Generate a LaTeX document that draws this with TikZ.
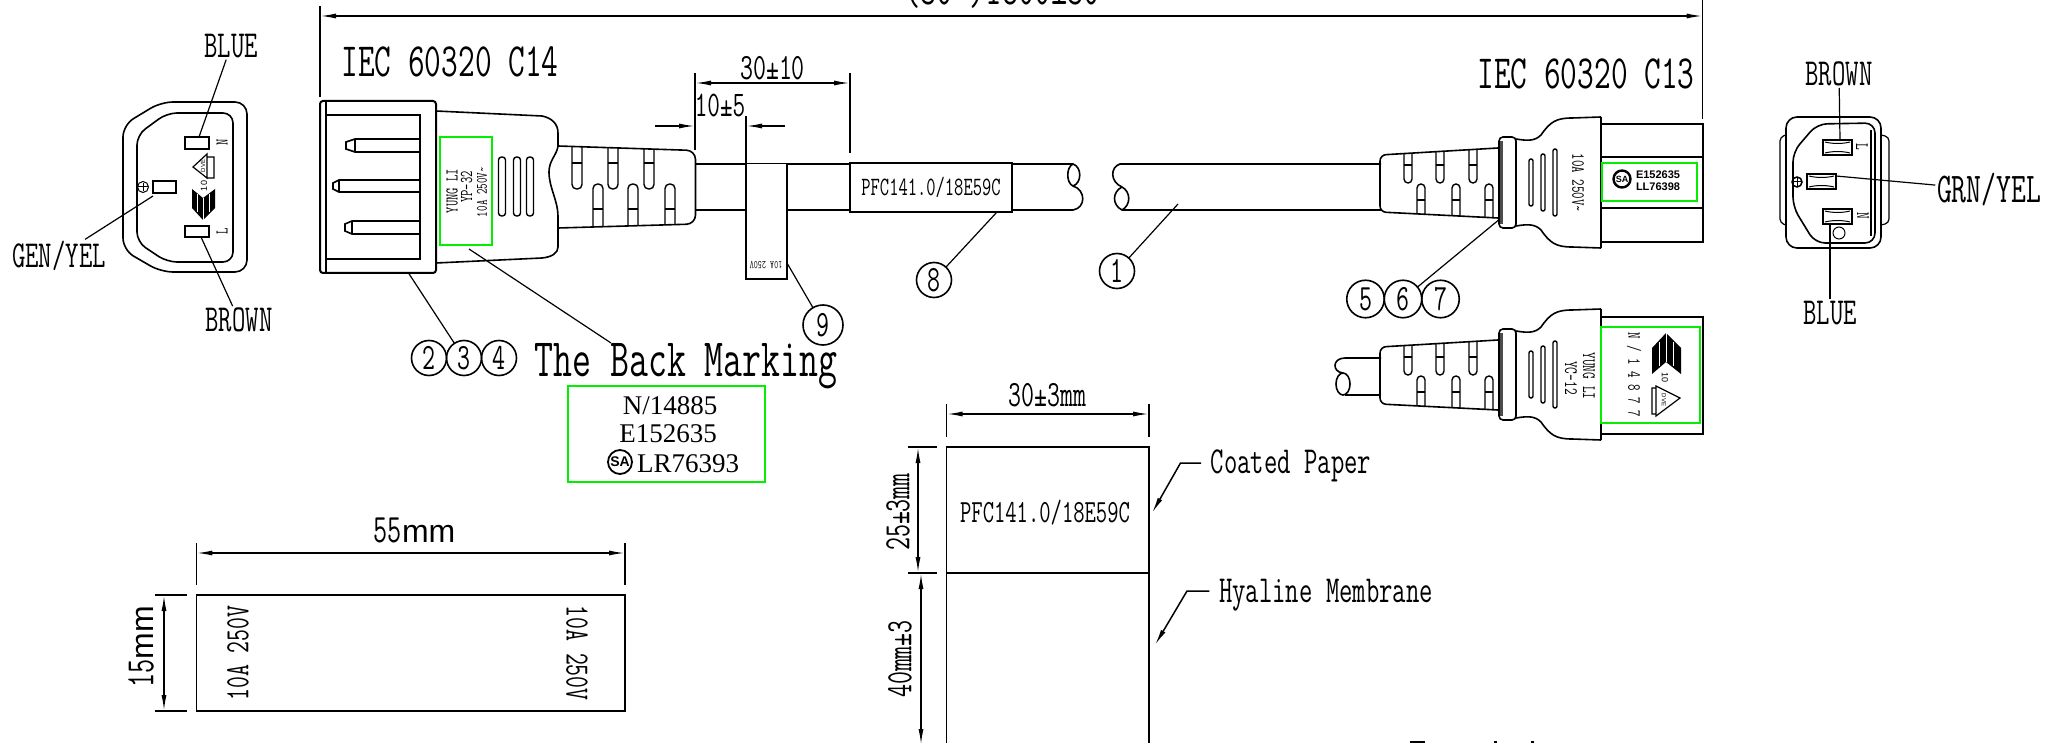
\documentclass[tikz,border=0pt]{standalone}
\usepackage{fontspec}
\usepackage{tikz}
\usetikzlibrary{positioning,arrows.meta}
\newfontfamily\cadfont[FakeStretch=0.68]{Latin Modern Mono}
\newfontfamily\markfont{Liberation Serif}
\newfontfamily\logofont[Scale=1]{Liberation Sans}
\newcommand{\cad}[1]{\cadfont\fontsize{\fpeval{#1*1.06}pt}{#1pt}\selectfont}
\newcommand{\mrk}[1]{\markfont\fontsize{#1pt}{#1pt}\selectfont}
\newcommand{\lgo}[1]{\logofont\fontsize{#1pt}{#1pt}\selectfont}
\definecolor{markgreen}{RGB}{0,240,0}
\tikzset{
	lab/.style={font=\cad{#1},inner sep=1pt},
	rlab/.style={font=\cad{#1},inner sep=1pt,rotate=90},
	dlab/.style={font=\cad{#1},inner sep=1pt,rotate=-90},
	numc/.style={draw,circle,inner sep=0pt,outer sep=0pt,minimum size=#1,font=\cad{35}},
	dimline/.style={line width=1.5pt,{Latex[length=16pt,width=5pt]}-{Latex[length=16pt,width=5pt]}},
	flagline/.style={line width=1.5pt,-{Latex[length=16pt,width=5pt]}},
	thin line/.style={line width=1.2pt},
	green box/.style={draw=markgreen,line width=2pt},
	csa/.style={draw,circle,line width=1.8pt,inner sep=0pt,minimum size=#1,font=\lgo{14}\bfseries},
	slotb/.style={line width=1.4pt,rounded corners=3pt}
}
\begin{document}
\begin{tikzpicture}[x=1pt,y=-1pt,line width=1.6pt]
	\useasboundingbox (0,0) rectangle (2069,743);
	
	\coordinate (t1) at (320,16);
	\coordinate (t2) at (1702.6,16);
	\draw[thin line] (320,6) -- (320,97);
	\draw[thin line] (1702.6,0) -- (1702.6,119);
	\draw[dimline] (t1) -- (t2);
	\node[lab=44,anchor=base] (total) at (1002,5) {(30')1800±30};
	\node[lab=45] (c14) at (450,62) {IEC 60320 C14};
	\node[lab=45] (c13) at (1586,73.5) {IEC 60320 C13};
	
	\draw[rounded corners=12pt] (161,102) -- (247,102) -- (247,272) -- (161,272) -- (123,250) -- (123,125) -- cycle;
	\draw[rounded corners=10pt] (167,113) -- (233,113) -- (233,262) -- (167,262) -- (137,242) -- (137,135) -- cycle;
	\draw[line width=2.8pt] (185,137) rectangle (209,149);
	\draw[line width=2.8pt] (185,226) rectangle (209,237);
	\draw[line width=2.8pt] (153,181) rectangle (176,193);
	\draw[line width=1pt] (143,187) circle (5.5);
	\draw[line width=1pt] (138,187) -- (148,187) (143,183) -- (143,191);
	\node[rlab=17] (n1) at (222,142) {\bfseries N};
	\node[rlab=17] (l1) at (222,231) {\bfseries L};
	\draw[line width=1.2pt] (193,167) -- (207,154) -- (207,178) -- cycle (207,157) rectangle (214,178);
	\node[font=\lgo{6},rotate=90,inner sep=0pt] (vde1) at (203,166) {DVE};
	\node[font=\lgo{9},rotate=90,inner sep=0pt] (ten1) at (204,186) {10};
	\fill (192,189) -- (203,198) -- (215,189) -- (215,208) -- (203,220) -- (192,208) -- cycle;
	\draw[white,line width=.6pt] (203,198) -- (203,220) (197,194) -- (197,212) (209,194) -- (209,212);
	\node[lab=36] (blue1) at (231,46) {BLUE};
	\node[lab=36] (brown1) at (239,320) {BROWN};
	\node[lab=36] (gen1) at (59,256) {GEN/YEL};
	\coordinate (p1) at (199,137);
	\coordinate (p2) at (201,237);
	\coordinate (p3) at (153,196);
	\draw[thin line] (blue1) -- (p1);
	\draw[thin line] (brown1) -- (p2);
	\draw[thin line] (gen1) -- (p3);
	
	\draw[line width=2pt,rounded corners=3pt] (436,101) -- (320,101) -- (320,273) -- (436,273) -- cycle;
	\draw (326,101) -- (326,273);
	\draw (326,115) -- (420,115) -- (420,259) -- (326,259);
	\foreach \ya/\yb/\xa/\xb in {139/152/346/355,180/192/333/339,221/234/345/352}{
		\draw (420,\ya) -- (\xb,\ya) -- (\xa,\ya+3) -- (\xa,\yb-3) -- (\xb,\yb) -- (420,\yb);
		\draw[thin line] (\xb,\ya) -- (\xb,\yb);
	}
	\draw (436,111) -- (542,116) .. controls (552,118) and (558,124) .. (558,133) -- (558,146) .. controls (557,155) and (549,160) .. (549,172) .. controls (549,188) and (558,200) .. (558,217) -- (558,247) .. controls (558,253) and (552,257) .. (542,258) -- (436,263);
	\draw[green box] (440,137) rectangle (492,245);
	\node[rlab=17] (y1) at (452,191) {YUNG LI};
	\node[rlab=17] (y2) at (466.5,187) {YP-32};
	\node[rlab=15] (y3) at (482,192) {10A 250V\textasciitilde};
	\foreach \x in {502,517,530}
		\draw[slotb] (\x-3.5,157) rectangle (\x+3.5,216);
	\draw[rounded corners=9pt] (558,146) -- (695.5,150.5) -- (695.5,224) -- (558,228);
	\foreach \x in {577,613,649}{
		\draw[slotb,rounded corners=4.5pt] (\x-5,{146+.033*(\x-558)}) -- (\x-5,189) -- (\x+5,189) -- (\x+5,{146+.033*(\x-558)});
		\draw[thin line] (\x-5,163) -- (\x+5,163);
	}
	\foreach \x in {598,633,670}{
		\draw[slotb,rounded corners=4.5pt] (\x-5,{228-.033*(\x-558)}) -- (\x-5,184) -- (\x+5,184) -- (\x+5,{228-.033*(\x-558)});
		\draw[thin line] (\x-5,209) -- (\x+5,209);
	}
	
	\draw (695.5,164) -- (1073,164) .. controls (1082,167) and (1082,183) .. (1073,186) .. controls (1066,183) and (1066,167) .. (1073,164);
	\draw (1073,186) .. controls (1086,190) and (1086,208) .. (1073,210) -- (695.5,210);
	\draw (1381,164) -- (1120,164) .. controls (1110,167) and (1110,182) .. (1122,187) .. controls (1131,192) and (1131,205) .. (1122,210) .. controls (1112,205) and (1112,192) .. (1122,187);
	\draw (1122,210) -- (1381,210);
	
	\draw[fill=white] (746,164) -- (746,279) -- (787,279) -- (787,164);
	\node[lab=11,rotate=180] (flag) at (766,265) {10A 250V};
	\node[draw,line width=2pt,fill=white,minimum width=162pt,minimum height=49pt,font=\cad{25},inner sep=0pt] (sleeve) at (931,187.5) {PFC141.0/18E59C};
	
	\draw[thin line] (695,73) -- (695,150);
	\draw[thin line] (850,73) -- (850,153);
	\coordinate (a1) at (695,83);
	\coordinate (a2) at (850,83);
	\draw[dimline] (a1) -- (a2);
	\path (a1) -- (a2) coordinate[midway] (a0);
	\node[lab=35,above=1pt of a0] (d30) {30±10};
	\draw[thin line] (746,116) -- (746,164);
	\coordinate (a3) at (655,126);
	\coordinate (a4) at (695,126);
	\coordinate (a5) at (785,126);
	\coordinate (a6) at (746,126);
	\draw[flagline] (a3) -- (a4);
	\draw[flagline] (a5) -- (a6);
	\node[lab=34] (d10) at (720,105) {10±5};
	
	\node[numc=35pt] (n3) at (464,358) {3};
	\node[numc=35pt,left=0pt of n3] (n2) {2};
	\node[numc=35pt,right=0pt of n3] (n4) {4};
	\node[numc=35pt] (n8) at (934,280) {8};
	\node[numc=35pt] (n1a) at (1117,271) {1};
	\node[numc=40pt] (n9) at (823,325) {9};
	\node[numc=37.5pt] (n6) at (1403,299) {6};
	\node[numc=37.5pt,left=0pt of n6] (n5) {5};
	\node[numc=37.5pt,right=0pt of n6] (n7) {7};
	\coordinate (q1) at (408.5,273);
	\coordinate (q2) at (469,249);
	\coordinate (q3) at (997,212);
	\coordinate (q4) at (1178,204);
	\coordinate (q5) at (787,263);
	\coordinate (q6) at (1498.6,220);
	\node[lab=51] (back) at (686,366) {The Back Marking};
	\coordinate (q7) at (611,343);
	\draw[thin line] (q1) -- (n3);
	\draw[thin line] (q2) -- (q7);
	\draw[thin line] (q3) -- (n8);
	\draw[thin line] (q4) -- (n1a);
	\draw[thin line] (q5) -- (n9);
	\draw[thin line] (q6) -- (n6);
	
	\draw[green box] (568,386) rectangle (765,482);
	\node[font=\mrk{27},inner sep=0pt] (m1) at (670,406) {N/14885};
	\node[font=\mrk{27},inner sep=0pt] (m2) at (668,434) {E152635};
	\node[font=\mrk{27},inner sep=0pt] (m3) at (688,464) {LR76393};
	\node[csa=24pt] (s1) at (620,462) {SA};
	
	\foreach \dy in {0,192}{
		\begin{scope}[shift={(0,\dy)}]
			\draw[rounded corners=6pt] (1498,148) -- (1380,155) -- (1380,212) -- (1498,218);
			\foreach \x in {1408,1440,1473}{
				\draw[slotb,rounded corners=4pt] (\x-4,{155-.06*(\x-1380)}) -- (\x-4,183) -- (\x+4,183) -- (\x+4,{155-.06*(\x-1380)});
				\draw[thin line] (\x-4,165) -- (\x+4,165);
			}
			\foreach \x in {1421,1456,1489}{
				\draw[slotb,rounded corners=4pt] (\x-4,{212+.05*(\x-1380)}) -- (\x-4,184) -- (\x+4,184) -- (\x+4,{212+.05*(\x-1380)});
				\draw[thin line] (\x-4,200) -- (\x+4,200);
			}
			\fill[black!70] (1499,141) rectangle (1503,224);
			\draw[rounded corners=4pt] (1516,137) -- (1499,137) -- (1499,228) -- (1516,228) -- cycle;
			\draw (1516,139) .. controls (1528,141) and (1535,141) .. (1541,135) .. controls (1550,122) and (1556,118) .. (1572,118) -- (1601,117);
			\draw (1516,226) .. controls (1528,224) and (1535,224) .. (1541,230) .. controls (1550,243) and (1556,247) .. (1572,247) -- (1601,248);
			\draw (1601,117) -- (1601,248);
			\draw[slotb,rounded corners=2pt] (1529,159) rectangle (1533,206);
			\draw[slotb,rounded corners=2pt] (1541,154) rectangle (1545,211);
			\draw[slotb,rounded corners=2pt] (1553,149) rectangle (1557,216);
		\end{scope}
	}
	
	\draw (1601,124) -- (1703,124) -- (1703,242) -- (1601,242);
	\draw (1601,157) -- (1703,157) (1601,208) -- (1703,208);
	\draw[green box,fill=white] (1602,163) rectangle (1697,201);
	\node[csa=17pt,line width=2.4pt,font=\lgo{9}\bfseries] (s2) at (1622,179) {SA};
	\node[font=\lgo{11}\bfseries,inner sep=0pt] (e1) at (1658,175) {E152635};
	\node[font=\lgo{11}\bfseries,inner sep=0pt] (e2) at (1658,187) {LL76398};
	\node[dlab=17.6] (r1) at (1578,183) {10A 250V\textasciitilde};
	
	\draw (1381,358) -- (1345,358) .. controls (1332,358) and (1332,372) .. (1343,373);
	\draw (1381,395) -- (1345,395);
	\draw (1343,384) ellipse (7 and 11);
	\draw (1601,317) -- (1703,317) -- (1703,434) -- (1601,434);
	\draw[green box] (1601,327) rectangle (1700,423);
	\node[dlab=18] (r2) at (1589,376) {YUNG LI};
	\node[dlab=18] (r3) at (1571,378) {YC-12};
	\node[dlab=17.6] (r4) at (1634,375) {N / 1 4 8 7 7};
	\fill (1666,333) -- (1681,348) -- (1681,374) -- (1666,362) -- (1652,374) -- (1652,348) -- cycle;
	\draw[white,line width=.6pt] (1666,333) -- (1666,362) (1659,342) -- (1659,366) (1673,342) -- (1673,366);
	\node[font=\lgo{9},rotate=-90,inner sep=0pt] (ten2) at (1665,378) {10};
	\draw[line width=1.2pt] (1656,386) -- (1680,398) -- (1656,416) -- cycle (1652,388) rectangle (1656,414);
	\node[font=\lgo{6},rotate=-90,inner sep=0pt] (vde2) at (1664,400) {DVE};
	
	\draw[line width=1.2pt,rounded corners=4pt] (1786,135) -- (1780,137) -- (1780,223) -- (1786,225);
	\draw[line width=1.2pt,rounded corners=4pt] (1881,135) -- (1889,137) -- (1889,223) -- (1881,225);
	\draw[rounded corners=11pt] (1786,117) rectangle (1881,248);
	\draw[rounded corners=10pt] (1817,124) -- (1875,123) -- (1875,243) -- (1815,243) -- (1793,207) -- (1793,152) -- cycle;
	\draw[thin line] (1871,130) -- (1871,236);
	\foreach \xa/\ya in {1823/140,1807/174,1823/209}{
		\draw[line width=2pt] (\xa,\ya) rectangle (\xa+29,\ya+15);
		\draw[line width=1pt] (\xa+2,\ya+2) .. controls (\xa+10,\ya+4) and (\xa+19,\ya+4) .. (\xa+27,\ya+2);
		\draw[line width=1pt] (\xa+2,\ya+13) .. controls (\xa+10,\ya+11) and (\xa+19,\ya+11) .. (\xa+27,\ya+13);
	}
	\draw[line width=1.5pt] (1797,182) circle (5);
	\draw[line width=1pt] (1792,182) -- (1802,182) (1797,178) -- (1797,186);
	\draw[line width=1pt] (1839,233) circle (6);
	\node[dlab=18] (l2) at (1862,147) {L};
	\node[dlab=18] (n2a) at (1863,216) {N};
	\node[lab=36] (brown2) at (1839,74) {BROWN};
	\node[lab=36] (blue2) at (1830,313) {BLUE};
	\node[lab=40] (grn) at (1989,190) {GRN/YEL};
	\coordinate (p4) at (1840,140);
	\coordinate (p5) at (1830,225);
	\coordinate (p6) at (1836,176);
	\draw[thin line] (brown2) -- (p4);
	\draw[thin line] (blue2) -- (p5);
	\draw[thin line] (grn) -- (p6);
	
	\draw (946.6,743) -- (946.6,447) -- (1149,447) -- (1149,743);
	\draw (946.6,573) -- (1149,573);
	\draw[thin line] (946.6,404) -- (946.6,437);
	\draw[thin line] (1149,404) -- (1149,437);
	\coordinate (b1) at (946.6,414);
	\coordinate (b2) at (1149,414);
	\draw[dimline] (b1) -- (b2);
	\node[lab=35] (w30) at (1047.5,395) {30±3mm};
	\draw[thin line] (908,447) -- (937,447);
	\draw[thin line] (908,573) -- (937,573);
	\coordinate (b3) at (918,447);
	\coordinate (b4) at (918,573);
	\coordinate (b5) at (921,573);
	\coordinate (b6) at (921,745);
	\draw[dimline] (b3) -- (b4);
	\draw[dimline] (b5) -- (b6);
	\node[rlab=35] (h25) at (898,512) {25±3mm};
	\node[rlab=35] (h40) at (900,659) {40mm±3};
	\node[lab=30.5] (pfc2) at (1045,513) {PFC141.0/18E59C};
	\node[lab=36] (coat) at (1291,466) {Coated Paper};
	\node[lab=36] (hyal) at (1326,595) {Hyaline Membrane};
	\coordinate (k1) at (1180.5,463);
	\coordinate (k2) at (1152,513);
	\coordinate (k3) at (1187,591);
	\coordinate (k4) at (1155,645);
	\draw[flagline] (coat.west |- k1) ++(-8,0) -- (k1) -- (k2);
	\draw[flagline] (hyal.west |- k3) ++(-8,0) -- (k3) -- (k4);
	
	\draw (196.4,595) rectangle (625,711);
	\draw[thin line] (196.4,543) -- (196.4,585);
	\draw[thin line] (625,543) -- (625,585);
	\coordinate (f1) at (196.4,553);
	\coordinate (f2) at (625,553);
	\draw[dimline] (f1) -- (f2);
	\node[lab=38] (w55) at (414.6,530) {55{\lgo{32}mm}};
	\draw[thin line] (155,595) -- (187,595);
	\draw[thin line] (155,711) -- (187,711);
	\coordinate (f3) at (164,595);
	\coordinate (f4) at (164,711);
	\draw[dimline] (f3) -- (f4);
	\node[rlab=38] (h15) at (141,647) {15{\lgo{32}mm}};
	\node[rlab=32] (v1) at (238,653) {10A 250V};
	\node[dlab=32] (v2) at (577,653) {10A 250V};
	
	\fill (1410,741) rectangle (1425,743);
	\fill (1494,741) rectangle (1497,743);
	\fill (1531,741) rectangle (1534,743);
\end{tikzpicture}
\end{document}
